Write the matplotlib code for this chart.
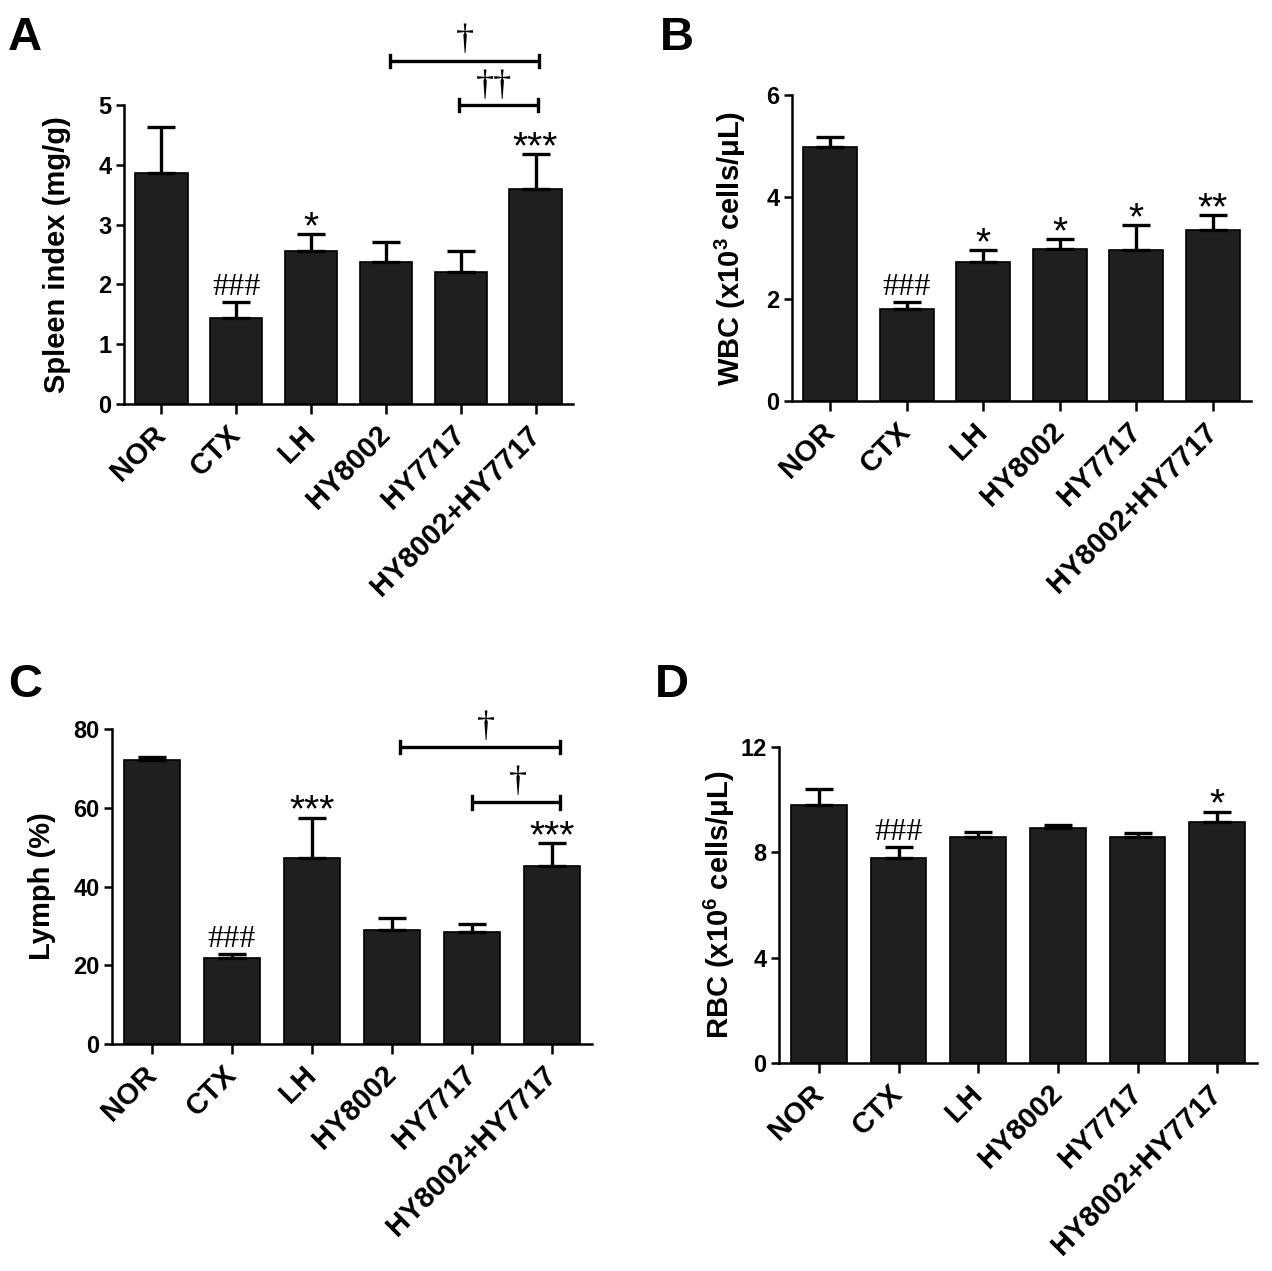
import matplotlib
matplotlib.use("Agg")
import matplotlib.pyplot as plt
import numpy as np

plt.rcParams['font.family'] = ['Liberation Sans', 'DejaVu Sans']
plt.rcParams['mathtext.fontset'] = 'custom'
plt.rcParams['mathtext.rm'] = 'Liberation Sans:bold'
plt.rcParams['mathtext.it'] = 'Liberation Sans:bold'
plt.rcParams['mathtext.bf'] = 'Liberation Sans:bold'

groups = ["NOR", "CTX", "LH", "HY8002", "HY7717", "HY8002+HY7717"]

spleen_mean = [3.86, 1.44, 2.56, 2.38, 2.20, 3.59]
spleen_err_top = [4.63, 1.70, 2.84, 2.71, 2.56, 4.18]
spleen_marks = ["", "###", "*", "", "", "***"]

wbc_mean = [4.99, 1.81, 2.72, 2.98, 2.96, 3.35]
wbc_err_top = [5.18, 1.95, 2.96, 3.17, 3.45, 3.64]
wbc_marks = ["", "###", "*", "*", "*", "**"]

lymph_mean = [72.2, 21.9, 47.2, 28.9, 28.4, 45.3]
lymph_err_top = [73.0, 22.9, 57.5, 32.1, 30.5, 51.1]
lymph_marks = ["", "###", "***", "", "", "***"]

rbc_mean = [9.81, 7.78, 8.58, 8.92, 8.58, 9.15]
rbc_err_top = [10.42, 8.20, 8.77, 9.03, 8.75, 9.55]
rbc_marks = ["", "###", "", "", "", "*"]

W, H = 1272, 1271
fig = plt.figure(figsize=(W / 100, H / 100), dpi=100)


def px_axes(left, right, top, bottom):
    return fig.add_axes([left / W, 1 - bottom / H, (right - left) / W, (bottom - top) / H])


BAR_COLOR = "#1f1f1f"
TICK_FS = 17
XLAB_FS = 21
YLAB_FS = 21
SERIF = ["Liberation Serif", "DejaVu Serif"]


def draw_panel(ax, means, err_top, marks, ymax, yticks, ylabel, label_x):
    x = np.arange(len(groups))
    means = np.array(means)
    err_top = np.array(err_top)
    ax.bar(x, means, width=0.70, color=BAR_COLOR, edgecolor="black", linewidth=1.2, zorder=2)
    ax.errorbar(x, means, yerr=[np.zeros_like(means), err_top - means], fmt="none",
                ecolor="black", elinewidth=2.4, capsize=10, capthick=2.4, zorder=3)
    ax.set_xlim(-0.5, len(groups) - 0.5)
    ax.set_ylim(0, ymax)
    ax.set_yticks(yticks)
    ax.set_yticklabels([str(t) for t in yticks], fontsize=TICK_FS, fontweight="bold")
    ax.set_xticks(x)
    ax.set_xticklabels(groups, rotation=45, ha="right", va="center", rotation_mode="anchor",
                       fontsize=XLAB_FS, fontweight="bold")
    ax.tick_params(axis="x", length=7, width=1.8, pad=12)
    ax.tick_params(axis="y", length=6, width=1.8, pad=3)
    for s in ["top", "right"]:
        ax.spines[s].set_visible(False)
    for s in ["left", "bottom"]:
        ax.spines[s].set_linewidth(1.8)
    ax.set_ylabel(ylabel, fontsize=YLAB_FS, fontweight="bold", va="center")
    ax.yaxis.set_label_coords(label_x, 0.5)
    ax.set_facecolor("none")
    for xi, m, e in zip(x, marks, err_top):
        if not m:
            continue
        if m.startswith("#"):
            ax.annotate(m, (xi, e), xytext=(0, 5), textcoords="offset points", ha="center",
                        va="baseline", fontsize=23, family=SERIF, annotation_clip=False)
        else:
            ax.annotate(m, (xi, e), xytext=(0, -3), textcoords="offset points", ha="center",
                        va="baseline", fontsize=28, annotation_clip=False)


def bracket(ax, x0, x1, y, label, label_x, cap, off):
    ax.plot([x0, x1], [y, y], color="black", lw=2.4, clip_on=False, zorder=4,
            solid_capstyle="butt")
    for xx in (x0, x1):
        ax.plot([xx, xx], [y - cap, y + cap], color="black", lw=2.4, clip_on=False, zorder=4)
    ax.annotate(label, (label_x, y), xytext=(0, off), textcoords="offset points", ha="center",
                va="baseline", fontsize=26, family=SERIF, annotation_clip=False)


# Panel A
axA = px_axes(124, 573, 105, 404)
draw_panel(axA, spleen_mean, spleen_err_top, spleen_marks, 5, [0, 1, 2, 3, 4, 5],
           "Spleen index (mg/g)", (57 - 124) / 449)
bracket(axA, 3.05, 5.05, 5.73, "\u2020", 4.05, 0.1, 9)
bracket(axA, 3.97, 5.03, 5.0, "\u2020\u2020", 4.45, 0.1, 7)

# Panel B
axB = px_axes(792, 1251, 95, 401)
draw_panel(axB, wbc_mean, wbc_err_top, wbc_marks, 6, [0, 2, 4, 6],
           r"WBC (x10$^{3}$ cells/$\mathregular{\mu}$L)", (730 - 792) / 459)

# Panel C
axC = px_axes(112, 592, 729, 1044)
draw_panel(axC, lymph_mean, lymph_err_top, lymph_marks, 80, [0, 20, 40, 60, 80],
           "Lymph (%)", (42 - 112) / 480)
bracket(axC, 3.1, 5.1, 75.4, "\u2020", 4.17, 1.6, 8)
bracket(axC, 4.0, 5.1, 61.4, "\u2020", 4.58, 1.6, 8)

# Panel D
axD = px_axes(779, 1257, 747, 1063)
draw_panel(axD, rbc_mean, rbc_err_top, rbc_marks, 12, [0, 4, 8, 12],
           r"RBC (x10$^{6}$ cells/$\mathregular{\mu}$L)", (719 - 779) / 478)

# Panel letters
for letter, (px, py) in {"A": (8, 50), "B": (660, 50), "C": (8, 697), "D": (655, 697)}.items():
    fig.text(px / W, 1 - py / H, letter, fontsize=34, fontweight="bold", ha="left", va="baseline")

fig.savefig("out.png", dpi=100, facecolor="white")
